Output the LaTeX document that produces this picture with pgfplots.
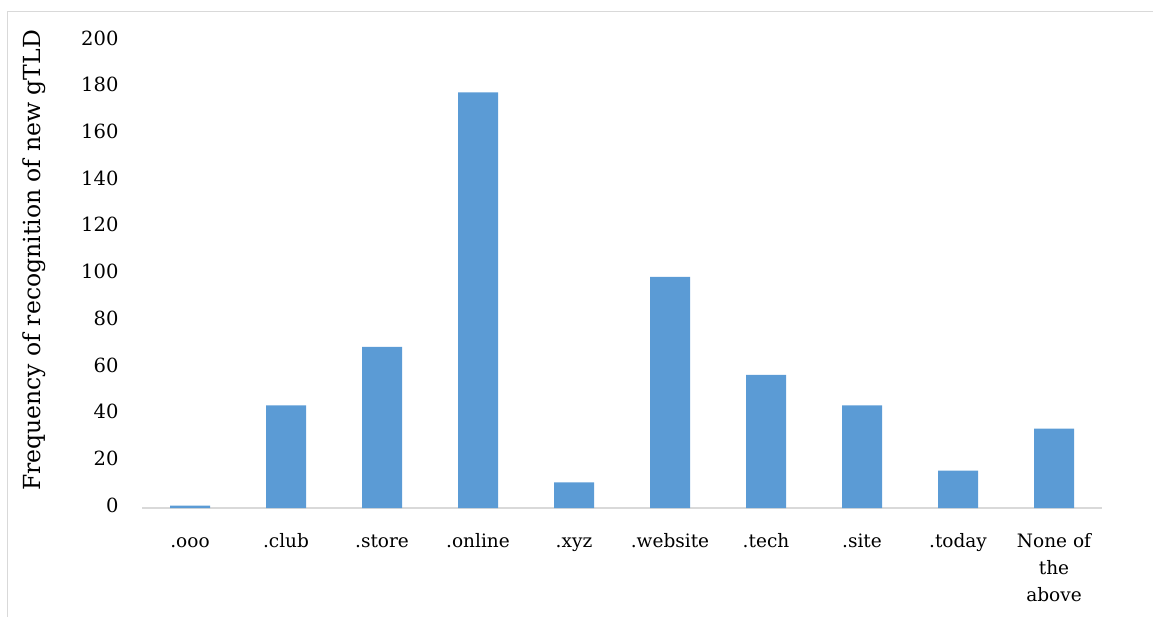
\documentclass[border=0pt]{standalone}
\usepackage{pgfplots}
\pgfplotsset{compat=1.18}
\usepackage{fontspec}
\setmainfont{DejaVu Serif}
\definecolor{barblue}{HTML}{5B9BD5}
\definecolor{axisgray}{HTML}{D9D9D9}
\begin{document}
\begin{tikzpicture}[x=1pt,y=1pt]
\useasboundingbox (0,0) rectangle (1153,616);
\draw[axisgray, line width=1.5pt] (7.5,-20) rectangle (1180,604.5);
\begin{axis}[
  at={(142pt,108pt)}, anchor=south west,
  scale only axis, width=960pt, height=467pt,
  ybar, bar width=40pt,
  xmin=-0.5, xmax=9.5, ymin=0, ymax=200,
  ytick={0,20,...,200},
  xtick={0,...,9},
  xticklabels={.ooo,.club,.store,.online,.xyz,.website,.tech,.site,.today,None of\\the\\above},
  typeset ticklabels with strut,
  x tick label style={align=center, font=\fontsize{18.5}{27}\selectfont, anchor=north, yshift=-17pt},
  y tick label style={font=\fontsize{19.5}{21}\selectfont, anchor=east, xshift=-20pt},
  /pgf/number format/assume math mode=true,
  major tick length=0pt,
  axis x line*=bottom, axis y line*=left,
  x axis line style={axisgray, line width=1.5pt, -},
  y axis line style={draw=none},
  ylabel={Frequency of recognition of new gTLD},
  every axis y label/.style={at={(axis description cs:-0.112,0.53)}, rotate=90, anchor=center, font=\fontsize{23.5}{27}\selectfont},
]
\addplot[fill=barblue, draw=none] coordinates {
  (0,1) (1,44) (2,69) (3,178) (4,11) (5,99) (6,57) (7,44) (8,16) (9,34)
};
\end{axis}
\end{tikzpicture}
\end{document}
